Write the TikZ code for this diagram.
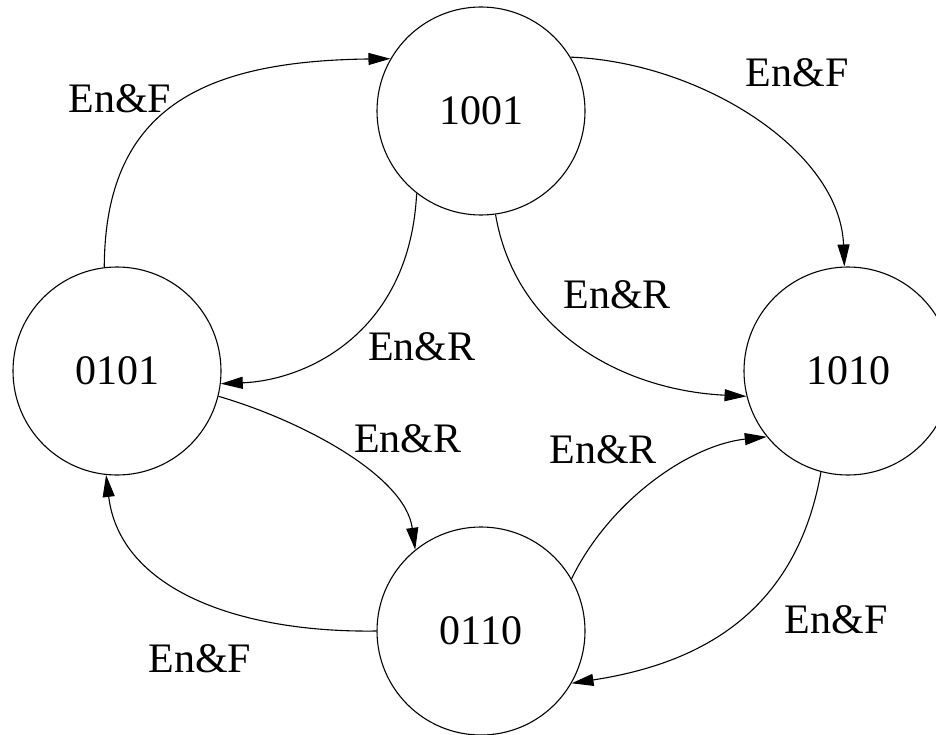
\documentclass[tikz,border=0pt]{standalone}
\usepackage{fontspec}
\setmainfont{Liberation Serif}
\usetikzlibrary{arrows.meta}
\begin{document}
\begin{tikzpicture}[x=1pt,y=-1pt,
  state/.style={circle,draw,line width=1.1pt,minimum size=208pt,inner sep=0pt,font=\fontsize{42}{50}\selectfont},
  lbl/.style={anchor=base,inner sep=0pt,font=\fontsize{42}{50}\selectfont},
  edge/.style={line width=1.1pt,-{Triangle[length=22pt,width=12pt]}}]
\useasboundingbox (0,0) rectangle (936,735);
\node[state] (s0101) at (117,371) {0101};
\node[state] (s1001) at (481,111) {1001};
\node[state] (s1010) at (848,371) {1010};
\node[state] (s0110) at (481,631) {0110};
% edges
\draw[edge] (s0101.97) .. controls (105,110) and (200,61) .. (s1001.150);
\draw[edge] (s1001.31) .. controls (700,62) and (840,150) .. (s1010.92);
\draw[edge] (s1001.232) .. controls (410,330) and (310,380) .. (s0101.353);
\draw[edge] (s1001.278) .. controls (515,330) and (620,390) .. (s1010.194);
\draw[edge] (s0101.346) .. controls (300,420) and (405,475) .. (s0110.129);
\draw[edge] (s0110.30) .. controls (610,500) and (690,445) .. (s1010.219);
\draw[edge] (s1010.255) .. controls (795,620) and (690,665) .. (s0110.330);
\draw[edge] (s0110.180) .. controls (240,633) and (120,590) .. (s0101.264);
% labels
\node[lbl] (l1) at (120,113) {En\&F};
\node[lbl] (l2) at (797,87) {En\&F};
\node[lbl] (l3) at (422,360) {En\&R};
\node[lbl] (l4) at (617,308) {En\&R};
\node[lbl] (l5) at (408,452) {En\&R};
\node[lbl] (l6) at (603,463) {En\&R};
\node[lbl] (l7) at (836,633) {En\&F};
\node[lbl] (l8) at (200,672) {En\&F};
\end{tikzpicture}
\end{document}
